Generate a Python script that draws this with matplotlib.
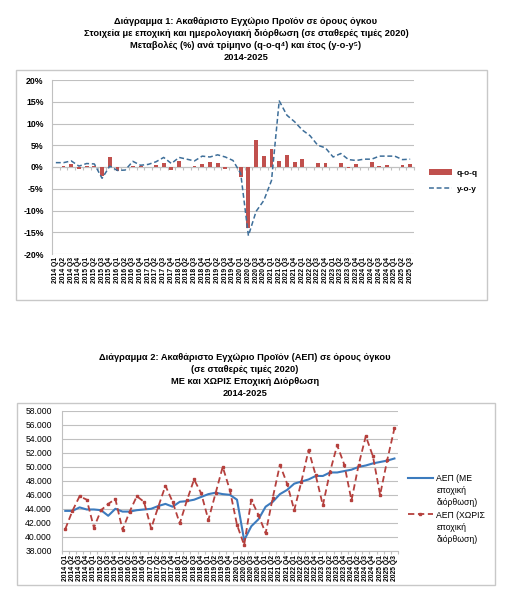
import numpy as np
import matplotlib
matplotlib.use("Agg")
import matplotlib.pyplot as plt
from matplotlib.patches import Rectangle
from matplotlib.lines import Line2D

plt.rcParams['font.family'] = ['Liberation Sans', 'DejaVu Sans']

# ---------------- data ----------------
years = list(range(2014, 2026))
quarters = [f"{y} Q{q}" for y in years for q in range(1, 5)][:47]

qoq = [0.1, 0.2, 0.8, -0.5, 0.3, 0.2, -2.0, 2.3, -0.9, -0.1, 0.2, 0.2,
       0.1, 0.4, 0.9, -0.6, 1.4, 0.1, 0.3, 0.6, 1.1, 1.0, -0.5, 0.1,
       -2.2, -14.0, 6.2, 2.5, 4.2, 1.4, 2.8, 1.2, 1.8, 0.1, 0.9, 0.9,
       0.1, 1.0, -0.2, 0.7, 0.1, 1.1, 0.2, 0.5, 0.1, 0.4, 0.6]
yoy = [1.0, 1.0, 1.4, 0.2, 0.8, 0.7, -2.6, 0.2, -0.8, -0.7, 1.3, 0.4,
       0.6, 1.2, 2.2, 0.8, 2.2, 1.8, 1.4, 2.5, 2.3, 2.8, 2.3, 1.5,
       -1.5, -15.8, -10.2, -7.7, -3.1, 15.2, 11.9, 10.4, 8.5, 7.2, 5.0, 4.4,
       2.3, 3.1, 1.7, 1.5, 1.8, 1.8, 2.5, 2.5, 2.5, 1.7, 1.8]

gdp_sa = [43700, 43700, 44200, 43900, 43900, 43800, 43000, 44000, 43600, 43600, 43800, 43900,
          44000, 44400, 44700, 44300, 45000, 45100, 45300, 45700, 46100, 46300, 46100, 46000,
          45300, 39500, 41500, 42500, 44300, 45000, 46100, 46700, 47600, 47900, 48200, 48700,
          48700, 49200, 49200, 49400, 49600, 50000, 50200, 50500, 50700, 50900, 51200]
gdp_nsa = [41100, 43700, 45800, 45300, 41300, 43800, 44700, 45400, 41000, 43600, 45800, 45000,
           41200, 44300, 47300, 45000, 41900, 45200, 48200, 46200, 42400, 46200, 50000, 46700,
           41700, 38800, 45300, 43100, 40500, 45600, 50300, 47600, 43800, 47900, 52400, 48800,
           44500, 49300, 53100, 50300, 45200, 50300, 54400, 51500, 46000, 51000, 55500]

yticks1 = [-20, -15, -10, -5, 0, 5, 10, 15, 20]
yticks2 = [38000, 40000, 42000, 44000, 46000, 48000, 50000, 52000, 54000, 56000, 58000]

title1 = ["Διάγραμμα 1: Ακαθάριστο Εγχώριο Προϊόν σε όρους όγκου",
          "Στοιχεία με εποχική και ημερολογιακή διόρθωση (σε σταθερές τιμές 2020)",
          "Μεταβολές (%) ανά τρίμηνο (q-o-q\u2074) και έτος (y-o-y\u2075)",
          "2014-2025"]
title2 = ["Διάγραμμα 2: Ακαθάριστο Εγχώριο Προϊόν (ΑΕΠ) σε όρους όγκου",
          "(σε σταθερές τιμές 2020)",
          "ΜΕ και ΧΩΡΙΣ Εποχική Διόρθωση",
          "2014-2025"]

W, H = 507, 600
fig = plt.figure(figsize=(W / 100, H / 100), dpi=100)

def fx(px):
    return px / W

def fy(py):
    return 1 - py / H

GRID = '#c0c0c0'
FRAME = '#c8c8c8'

# frames
fig.add_artist(Rectangle((fx(16), fy(300)), fx(487 - 16), (300 - 70) / H,
                         transform=fig.transFigure, fill=False, ec=FRAME, lw=1.0))
fig.add_artist(Rectangle((fx(17), fy(585)), fx(495 - 17), (585 - 403) / H,
                         transform=fig.transFigure, fill=False, ec=FRAME, lw=1.0))

# titles
for i, t in enumerate(title1):
    fig.text(fx(246), fy(21 + 12 * i), t, ha='center', va='center',
             fontsize=6.65, fontweight='bold')
for i, t in enumerate(title2):
    fig.text(fx(245), fy(357 + 12 * i), t, ha='center', va='center',
             fontsize=6.65, fontweight='bold')

x = np.arange(len(quarters))

# ---------------- chart 1 ----------------
ax1 = fig.add_axes([fx(52), fy(254), fx(414 - 52), (254 - 80) / H])
bars = ax1.bar(x, qoq, width=0.5, color='#C0504D', label='q-o-q', zorder=3)
line, = ax1.plot(x, yoy, color='#3D6E99', lw=1.1, ls=(0, (3.2, 1.8)), label='y-o-y', zorder=4)
ax1.set_xlim(-0.5, len(x) - 0.5)
ax1.set_ylim(-20, 20)
ax1.set_yticks(yticks1)
ax1.set_yticklabels([f"{v}%" for v in yticks1], fontsize=6.3, fontweight='bold')
ax1.tick_params(axis='y', length=0, pad=6)
ax1.grid(axis='y', color=GRID, lw=0.8)
ax1.set_axisbelow(True)
for s in ['top', 'right']:
    ax1.spines[s].set_visible(False)
ax1.spines['left'].set_color(GRID)
ax1.spines['bottom'].set_color(GRID)
ax1.spines['bottom'].set_position(('data', 0))
ax1.set_xticks(np.arange(-0.5, len(x), 1))
ax1.set_xticklabels([])
ax1.tick_params(axis='x', length=2.5, color=GRID, width=0.8)
sec = ax1.secondary_xaxis(0.0)
sec.set_xticks(x, labels=quarters)
sec.tick_params(axis='x', length=0, pad=2, labelsize=4.9, rotation=90)
for lbl in sec.get_xticklabels():
    lbl.set_fontweight('bold')
sec.spines['bottom'].set_visible(False)

ax1.legend([bars, line], ['q-o-q', 'y-o-y'],
           loc='center left', bbox_to_anchor=(fx(429), fy(181)),
           bbox_transform=fig.transFigure, frameon=False,
           prop={'size': 6, 'weight': 'bold'}, handlelength=2.8,
           handletextpad=0.5, borderpad=0, labelspacing=1.0, borderaxespad=0)

# ---------------- chart 2 ----------------
ax2 = fig.add_axes([fx(61.7), fy(550.7), fx(398 - 61.7), (550.7 - 411) / H])
l_sa, = ax2.plot(x, gdp_sa, color='#3C7BBE', lw=1.5, zorder=3)
l_nsa, = ax2.plot(x, gdp_nsa, color='#B5403D', lw=1.3, ls=(0, (3.5, 2)),
                  marker='s', markersize=1.8, zorder=4)
ax2.set_xlim(-0.5, len(x) - 0.5)
ax2.set_ylim(38000, 58000)
ax2.set_yticks(yticks2)
ax2.set_yticklabels([f"{v:,}".replace(',', '.') for v in yticks2], fontsize=6.2)
ax2.tick_params(axis='y', length=0, pad=7)
ax2.grid(axis='y', color=GRID, lw=0.8)
ax2.set_axisbelow(True)
for s in ['top', 'right']:
    ax2.spines[s].set_visible(False)
ax2.spines['left'].set_color(GRID)
ax2.spines['bottom'].set_color(GRID)
ax2.set_xticks(x, labels=quarters)
ax2.tick_params(axis='x', length=0, pad=3, labelsize=4.9, rotation=90)
for lbl in ax2.get_xticklabels():
    lbl.set_fontweight('bold')
ax2.set_xticks(np.arange(-0.5, len(x), 1), minor=True)
ax2.tick_params(axis='x', which='minor', length=2.5, color=GRID, width=0.8)

blank = Line2D([], [], color='none')
h_sa = Line2D([], [], color='#3C7BBE', lw=1.5)
h_nsa = Line2D([], [], color='#B5403D', lw=1.3, ls=(0, (3.5, 2)), marker='s', markersize=1.8)
ax2.legend([h_sa, blank, blank, h_nsa, blank, blank],
           ["ΑΕΠ (ΜΕ", "εποχική", "διόρθωση)", "ΑΕΠ (ΧΩΡΙΣ", "εποχική", "διόρθωση)"],
           loc='center left', bbox_to_anchor=(fx(408), fy(509)),
           bbox_transform=fig.transFigure, frameon=False, fontsize=6.2,
           handlelength=2.9, handletextpad=0.4, borderpad=0, labelspacing=0.35,
           borderaxespad=0)

fig.savefig('out.png', dpi=100)
